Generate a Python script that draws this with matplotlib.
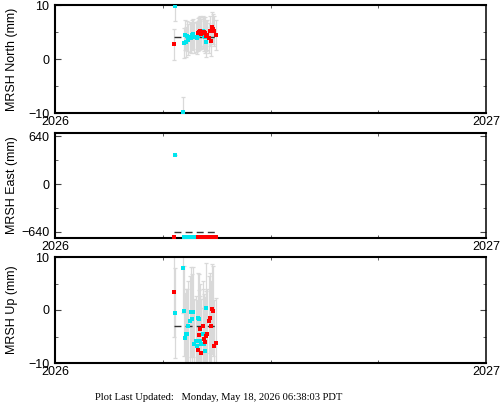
import matplotlib
matplotlib.use("Agg")
import matplotlib.pyplot as plt
import numpy as np

station = "MRSH"
start_year = 2026

# day-of-year for the two solution types
cyan_day = [102, 108, 109, 110, 111, 112, 113, 114, 115, 116, 117,
            118, 119, 120, 121, 122, 123, 124, 125, 126, 127, 128]
red_day = [101, 121, 122, 123, 124, 125, 126, 127, 128, 129, 130,
           131, 132, 133, 134, 135, 136]

# North (mm)
cyan_north = [9.8, -9.8, 2.9, 4.4, 3.2, 4.3, 3.6, 4.1, 3.9, 4.4, 4.6,
              4.0, 4.1, 3.8, 4.2, 4.5, 4.9, 4.7, 5.2, 4.3, 4.0, 3.1]
red_north = [2.7, 4.8, 5.0, 5.2, 4.6, 4.9, 5.0, 4.9, 4.2, 4.4, 3.9,
             5.2, 3.4, 5.9, 5.5, 5.2, 4.4]
# East (mm)
cyan_east = [394, 760, -712, -711, -713, -712, -710, -712, -711, -713, -712,
             -711, -712, -710, -712, -713, -711, -712, -712, -711, -712, -713]
red_east = [-712, -711, -712, -713, -712, -711, -712, -713, -712, -711, -712,
            -713, -712, -711, -712, -712, -711]
# Up (mm)
cyan_up = [-0.5, 7.9, -0.2, -5.2, -4.5, -4.6, -3.1, -2.0, -0.4, -1.7, -0.4,
           -6.5, -5.8, -6.7, -1.6, -1.7, -5.9, -6.4, -4.6, -6.4, -7.8, 0.4]
red_up = [3.45, -7.5, -4.7, -3.5, -8.1, -3.0, -5.5, -6.0, -4.9, -4.5, -2.0,
          -1.5, -3.1, 0.2, -0.2, -6.7, -6.3]

# one-sigma errors (mm)
north_sig = 2.8
east_sig = 3.0
up_sig = 8.5

# reference level drawn as the dashed line
ref_level = [4.1, -645, -3.1]

components = ["North", "East", "Up"]
ylims = [(-10, 10), (-721, 686), (-10, 10)]
yticks = [[-10, 0, 10], [-640, 0, 640], [-10, 0, 10]]
yminor = [[-5, 5], [-320, 320], [-5, 5]]

cyan_vals = [cyan_north, cyan_east, cyan_up]
red_vals = [red_north, red_east, red_up]
sigmas = [north_sig, east_sig, up_sig]

cyan_col = "#00e5ee"
red_col = "#ff0000"
err_col = "#d9d9d9"

fig = plt.figure(figsize=(5.01, 4.04), dpi=100)
left, width = 55 / 501, (486 - 55) / 501
tops = [5, 133, 257]
bottoms = [113, 238, 363]

cyan_x = start_year + np.array(cyan_day) / 365.0
red_x = start_year + np.array(red_day) / 365.0
all_x = np.concatenate([cyan_x, red_x])

for i, comp in enumerate(components):
    b = 1 - bottoms[i] / 404
    h = (bottoms[i] - tops[i]) / 404
    ax = fig.add_axes([left, b, width, h])

    for xs, ys, col in [(cyan_x, cyan_vals[i], cyan_col), (red_x, red_vals[i], red_col)]:
        ax.errorbar(xs, ys, yerr=sigmas[i], fmt="none", ecolor=err_col,
                    elinewidth=0.9, capsize=1.6, capthick=0.9, zorder=1)
    ax.hlines(ref_level[i], all_x.min(), all_x.max(), colors="#333333",
              linestyles=(0, (5, 3)), linewidth=1.0, zorder=2)
    ax.plot(cyan_x, cyan_vals[i], "s", color=cyan_col, ms=2.2, mew=0, zorder=3)
    ax.plot(red_x, red_vals[i], "s", color=red_col, ms=2.2, mew=0, zorder=3)

    ax.set_xlim(start_year, start_year + 1)
    ax.set_ylim(*ylims[i])
    ax.set_xticks([start_year, start_year + 1])
    ax.set_xticklabels([str(start_year), str(start_year + 1)])
    ax.set_xticks([start_year + 0.25, start_year + 0.5, start_year + 0.75], minor=True)
    ax.set_yticks(yticks[i])
    ax.set_yticks(yminor[i], minor=True)
    ax.tick_params(axis="both", which="both", direction="in", top=True, right=True,
                   labelsize=9, color="#444444")
    ax.tick_params(axis="y", which="major", length=4, pad=4)
    ax.tick_params(axis="y", which="minor", length=2.5)
    ax.tick_params(axis="x", which="major", length=0, pad=2.5)
    ax.tick_params(axis="x", which="minor", length=2.5)

    for s in ["left", "top", "bottom"]:
        ax.spines[s].set_linewidth(1.5)
    ax.spines["right"].set_linewidth(1.1)

    ax.set_ylabel(f"{station} {comp} (mm)", fontsize=9)
    ax.yaxis.set_label_coords(-0.087, 0.5)

for lbl in fig.axes:
    for t in lbl.get_xticklabels() + lbl.get_yticklabels():
        t.set_family(["Liberation Sans", "DejaVu Sans"])
    lbl.yaxis.label.set_family(["Liberation Sans", "DejaVu Sans"])

fig.text(95 / 501, 1 - 397 / 404, "Plot Last Updated:   Monday, May 18, 2026 06:38:03 PDT",
         family="Liberation Serif", fontsize=7.6, ha="left", va="center")

fig.savefig("out.png", dpi=100)
